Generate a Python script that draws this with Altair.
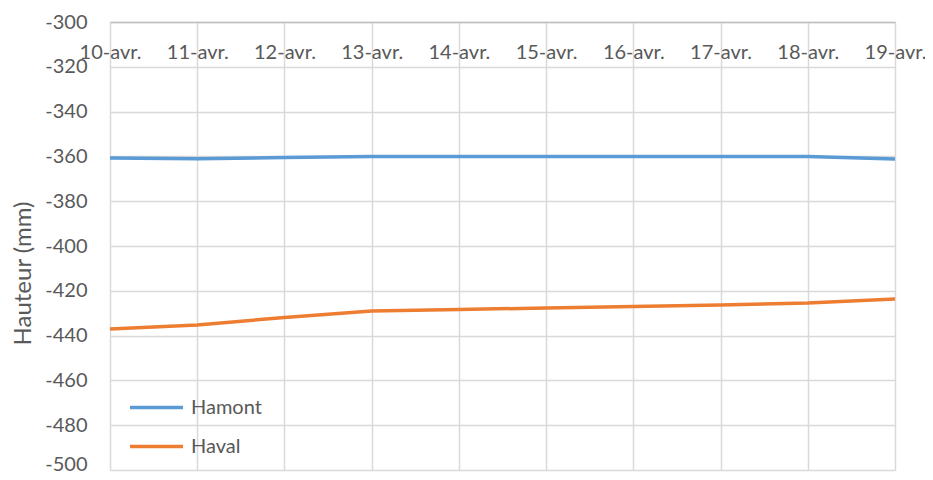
import altair as alt
import pandas as pd

dates = ["10-avr.", "11-avr.", "12-avr.", "13-avr.", "14-avr.", "15-avr.", "16-avr.", "17-avr.", "18-avr.", "19-avr."]
hamont = [-360.7, -361.0, -360.5, -360.0, -360.0, -360.0, -360.0, -360.0, -360.0, -361.2]
haval = [-437.1, -435.3, -431.9, -429.0, -428.3, -427.7, -427.0, -426.3, -425.5, -423.7]
series = ["Hamont", "Haval"]
colors = ["#5B9BD5", "#ED7D31"]

rows = []
for d, a, b in zip(dates, hamont, haval):
    rows.append({"date": d, "serie": "Hamont", "val": a})
    rows.append({"date": d, "serie": "Haval", "val": b})
df = pd.DataFrame(rows)

FONT = "Lato"
TXT = "#595959"

chart = alt.Chart(df).mark_line(strokeWidth=3.5).encode(
    x=alt.X("date:O", sort=dates, scale=alt.Scale(type="point", padding=0),
            axis=alt.Axis(orient="top", title=None, labelAngle=0, tickSize=0,
                          labelPadding=-30, labelBaseline="middle",
                          labelFont=FONT, labelFontSize=20, labelColor=TXT,
                          domainColor="#BFBFBF", domainWidth=1.5,
                          grid=True, gridColor="#D9D9D9", gridWidth=1.5)),
    y=alt.Y("val:Q", scale=alt.Scale(domain=[-500, -300], nice=False),
            axis=alt.Axis(values=list(range(-500, -299, 20)), title="Hauteur (mm)",
                          labelExpr="'' + datum.value",
                          labelOffset=alt.ConditionalAxisNumber(condition={"test": "datum.value == -500", "value": -6}, value=0),
                          titleFont=FONT, titleFontSize=24, titleColor=TXT, titleFontWeight="normal",
                          titleX=-87, titleY=251, titleAngle=270, titleAlign="center", titleBaseline="middle",
                          labelFont=FONT, labelFontSize=20, labelColor=TXT,
                          labelPadding=23, tickSize=0, domain=False,
                          grid=True, gridColor="#D9D9D9", gridWidth=1.5)),
    color=alt.Color("serie:N", scale=alt.Scale(domain=series, range=colors),
                    legend=alt.Legend(title=None, orient="none", legendX=18, legendY=357,
                                      symbolType="stroke", symbolSize=2809, symbolStrokeWidth=3.5,
                                      labelFont=FONT, labelFontSize=20, labelColor=TXT,
                                      rowPadding=-16, labelOffset=6)),
).properties(
    width=785, height=448,
    autosize=alt.AutoSizeParams(type="none"),
    padding={"left": 102, "top": 14, "right": 30, "bottom": 2},
).configure_view(stroke=None)

chart.save("out.html", embed_options={"renderer": "svg", "actions": False})
